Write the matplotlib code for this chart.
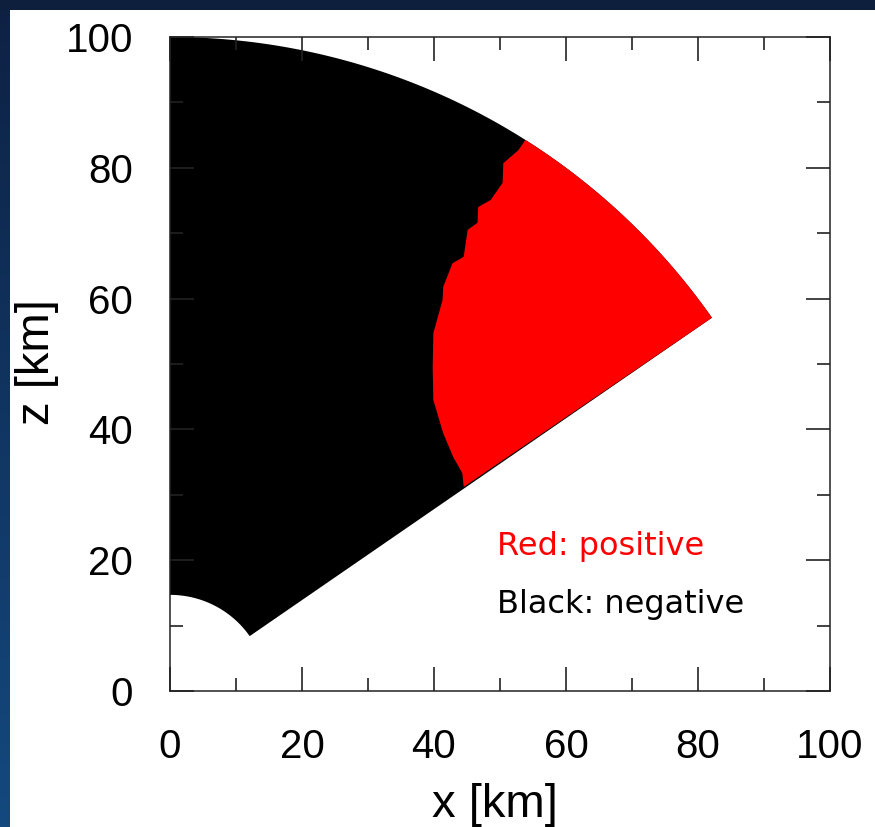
import numpy as np
import matplotlib.pyplot as plt
from matplotlib.colors import LinearSegmentedColormap

# annular sector around the origin (km, degrees)
r_inner = 14.7
r_outer = 100.0
theta_low = 34.8
theta_high = 90.0

# sign change boundary, from the outer rim down to the lower edge
edge_x = [53.6, 52.8, 50.5, 50.4, 48.6, 46.7, 46.6, 45.1, 44.5, 42.8,
          41.4, 41.3, 39.9, 39.8, 39.9, 41.4, 42.9, 44.3, 44.5]
edge_z = [83.9, 82.7, 80.7, 77.7, 75.1, 74.0, 71.6, 70.5, 66.4, 65.4,
          61.8, 59.8, 54.7, 49.5, 44.5, 39.4, 35.8, 33.3, 31.2]

ticks = [0, 20, 40, 60, 80, 100]


def arc(r, t0, t1, n=200):
    t = np.radians(np.linspace(t0, t1, n))
    return r * np.cos(t), r * np.sin(t)


fig = plt.figure(figsize=(8.75, 8.27), dpi=100, facecolor="white")

# slide frame along the top and left
band = fig.add_axes([0, 0, 10 / 875, 1])
grad = LinearSegmentedColormap.from_list("frame", ["#0e2143", "#14497f"])
band.imshow(np.linspace(0, 1, 256).reshape(-1, 1), aspect="auto", cmap=grad)
band.axis("off")
top = fig.add_axes([0, 817 / 827, 1, 10 / 827])
top.set_facecolor("#0d1f3d")
top.set_xticks([])
top.set_yticks([])
for s in top.spines.values():
    s.set_visible(False)

ax = fig.add_axes([170 / 875, 1 - 691 / 827, 660 / 875, 654 / 827])

# negative region: whole sector
ox, oz = arc(r_outer, theta_low, theta_high)
ix, iz = arc(r_inner, theta_high, theta_low)
ax.fill(np.concatenate([ox, ix]), np.concatenate([oz, iz]),
        color="black", lw=0)

# positive region: between the boundary and the outer rim
ex = np.array(edge_x)
ez = np.array(edge_z)
theta_top = np.degrees(np.arctan2(ez[0], ex[0]))
rx, rz = arc(r_outer, theta_low, theta_top)
ax.fill(np.concatenate([ex, rx]), np.concatenate([ez, rz]),
        color="#ff0000", lw=0)

ax.text(49.6, 20.8, "Red: positive", color="#ff0000", fontsize=23,
        family="DejaVu Sans")
ax.text(49.6, 11.9, "Black: negative", color="black", fontsize=23,
        family="DejaVu Sans")

ax.set_xlim(0, 100)
ax.set_ylim(0, 100)
ax.set_xticks(ticks)
ax.set_yticks(ticks)
ax.set_xticks(np.arange(10, 100, 20), minor=True)
ax.set_yticks(np.arange(10, 100, 20), minor=True)
ax.tick_params(which="both", direction="in", top=True, right=True,
               width=1.2, color="#222222", labelsize=29, pad=26.5)
ax.tick_params(which="major", length=17.3)
ax.tick_params(which="minor", length=9.4)
for lab in ax.get_xticklabels() + ax.get_yticklabels():
    lab.set_family("Liberation Sans")
for s in ax.spines.values():
    s.set_linewidth(1.1)
    s.set_color("#222222")

ax.set_xlabel("x [km]", fontsize=34, family="Liberation Sans")
ax.set_ylabel("z [km]", fontsize=34, family="Liberation Sans")
ax.xaxis.set_label_coords(0.492, -0.1927)
ax.xaxis.label.set_verticalalignment("baseline")
ax.yaxis.set_label_coords(-0.2015, 0.503)
ax.yaxis.label.set_verticalalignment("center")

fig.savefig("out.png", dpi=100)
